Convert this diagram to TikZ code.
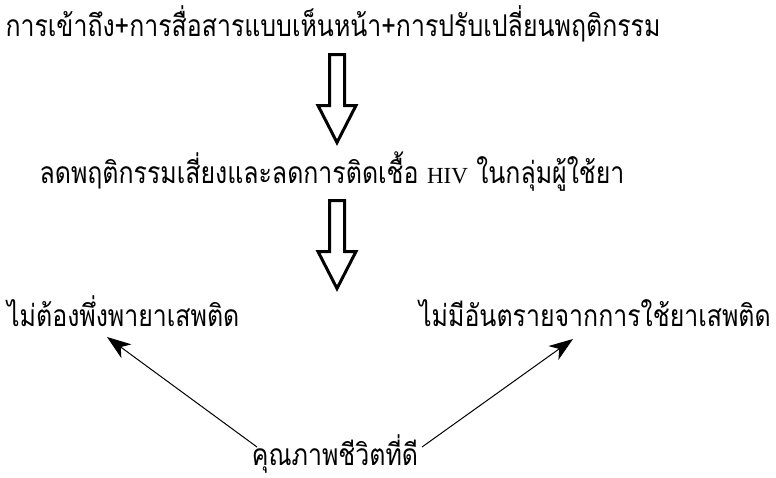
\documentclass[tikz,border=0pt]{standalone}
\usepackage{fontspec}
\setmainfont[Script=Thai,FakeStretch=0.83]{Loma}
\newfontfamily\hivfont{Liberation Serif}
\usetikzlibrary{arrows.meta}
\tikzset{
  lbl/.style={inner sep=0pt, font=\fontsize{30}{33}\selectfont},
  thin arrow/.style={line width=1pt, -{Stealth[length=24pt,width=17pt,inset=7pt]}},
  pics/blockarrow/.style={code={
    \draw[line width=3pt, miter limit=10]
      (-7.5,0) -- (7.5,0) -- (7.5,51) -- (19,51) -- (0,88) -- (-19,51) -- (-7.5,51) -- cycle;
  }}
}
\begin{document}
\begin{tikzpicture}[x=1pt,y=-1pt]
\useasboundingbox (0,0) rectangle (776,477);
\node[lbl, anchor=base] (top) at (333,36) {การเข้าถึง+การสื่อสารแบบเห็นหน้า+การปรับเปลี่ยนพฤติกรรม};
\node[lbl, anchor=base] (mid) at (332,183) {ลดพฤติกรรมเสี่ยงและลดการติดเชื้อ {\hivfont\fontsize{23}{25}\selectfont HIV} ในกลุ่มผู้ใช้ยา};
\node[lbl, anchor=base west] (left) at (7,326) {ไม่ต้องพึ่งพายาเสพติด};
\node[lbl, anchor=base east] (right) at (771,326) {ไม่มีอันตรายจากการใช้ยาเสพติด};
\node[lbl, anchor=base] (bot) at (335,465) {คุณภาพชีวิตที่ดี};
\pic at (337,54.5) {blockarrow};
\pic at (337,200.5) {blockarrow};
\coordinate (lt) at (257,447);
\coordinate (lh) at (107,337);
\coordinate (rt) at (422,447);
\coordinate (rh) at (573,339);
\draw[thin arrow] (lt) -- (lh);
\draw[thin arrow] (rt) -- (rh);
\end{tikzpicture}
\end{document}
